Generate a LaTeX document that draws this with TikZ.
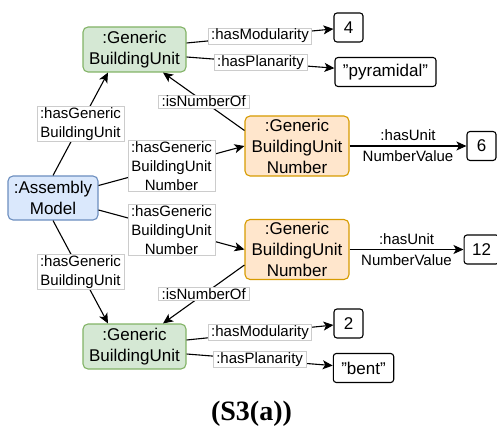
\documentclass[tikz,border=0pt]{standalone}
\usepackage{fontspec}
\setmainfont{Liberation Sans}
\newfontfamily\capfont{Liberation Serif}
\usetikzlibrary{arrows.meta}
\definecolor{gbuFill}{HTML}{D5E8D4}
\definecolor{gbuLine}{HTML}{82B366}
\definecolor{numFill}{HTML}{FFE6CC}
\definecolor{numLine}{HTML}{D79B00}
\definecolor{asmFill}{HTML}{DAE8FC}
\definecolor{asmLine}{HTML}{6C8EBF}
\definecolor{lblLine}{HTML}{CCCCCC}
\newcommand\strval[1]{\char34 #1\char34}
\begin{document}
\begin{tikzpicture}[x=1pt,y=-1pt,
	cls/.style={draw,rounded corners=5pt,line width=1.1pt,align=center,inner sep=0pt,font=\fontsize{17}{21}\selectfont},
	gbu/.style={cls,draw=gbuLine,fill=gbuFill,minimum width=103pt,minimum height=45pt},
	num/.style={cls,draw=numLine,fill=numFill,minimum width=104pt,minimum height=60pt},
	asm/.style={cls,draw=asmLine,fill=asmFill,minimum width=90pt,minimum height=44pt},
	val/.style={draw,rounded corners=3pt,line width=1.1pt,inner xsep=8pt,inner ysep=0pt,minimum width=29pt,minimum height=29pt,font=\fontsize{17}{21}\selectfont},
	lbl/.style={draw=lblLine,fill=white,line width=.6pt,align=center,inner xsep=3pt,inner ysep=1pt,font=\fontsize{15}{19}\selectfont},
	ulbl/.style={align=center,inner sep=0pt,font=\fontsize{15}{21}\selectfont},
	rel/.style={-{Stealth[length=10pt,width=9pt,inset=2.5pt]},line width=1.1pt}
	]
	\useasboundingbox (0,0) rectangle (497,430);
	
	% classes
	\node[asm] (asm) at (53,198) {:Assembly\\Model};
	\node[gbu] (gbuA) at (134.5,49.5) {:Generic\\BuildingUnit};
	\node[gbu] (gbuB) at (134.5,346.5) {:Generic\\BuildingUnit};
	\node[num] (numA) at (297,146) {:Generic\\BuildingUnit\\Number};
	\node[num] (numB) at (297,249.5) {:Generic\\BuildingUnit\\Number};
	
	% values
	\node[val] (modA) at (348.5,27.5) {4};
	\node[val] (plaA) at (385.5,72) {\strval{pyramidal}};
	\node[val] (valA) at (481.5,146) {6};
	\node[val] (valB) at (481.5,249.5) {12};
	\node[val] (modB) at (348.5,323.5) {2};
	\node[val] (plaB) at (363.5,368) {\strval{bent}};
	
	% upper part
	\draw[rel] (asm.north) -- node[lbl] (hguA) {:hasGeneric\\BuildingUnit} ([xshift=-26.5pt]gbuA.south);
	\draw[rel] ([yshift=12.5pt]asm.east) -- node[lbl] (hgnA) {:hasGeneric\\BuildingUnit\\Number} (numA.west);
	\draw[rel] ([yshift=15.5pt]numA.west) -- node[lbl] (inoA) {:isNumberOf} ([xshift=28.5pt]gbuA.south);
	\draw[rel] ([yshift=6.5pt]gbuA.east) -- node[lbl] (hmA) {:hasModularity} (modA);
	\draw[rel] ([yshift=-7.5pt]gbuA.east) -- node[lbl] (hpA) {:hasPlanarity} (plaA);
	\draw[rel] (numA) -- node[ulbl] (huA) {:hasUnit\\NumberValue} (valA);
	
	% lower part
	\draw[rel] (asm.south) -- node[lbl] (hguB) {:hasGeneric\\BuildingUnit} ([xshift=-26.5pt]gbuB.north);
	\draw[rel] ([yshift=-12pt]asm.east) -- node[lbl] (hgnB) {:hasGeneric\\BuildingUnit\\Number} (numB.west);
	\draw[rel] ([yshift=-15.5pt]numB.west) -- node[lbl] (inoB) {:isNumberOf} ([xshift=28.5pt]gbuB.north);
	\draw[rel] ([yshift=6.5pt]gbuB.east) -- node[lbl] (hmB) {:hasModularity} (modB);
	\draw[rel] ([yshift=-7.5pt]gbuB.east) -- node[lbl] (hpB) {:hasPlanarity} (plaB);
	\draw[rel] (numB) -- node[ulbl] (huB) {:hasUnit\\NumberValue} (valB);
	
	\node[font=\capfont\bfseries\fontsize{28}{30}\selectfont] (cap) at (251.5,414) {(S3(a))};
\end{tikzpicture}
\end{document}
